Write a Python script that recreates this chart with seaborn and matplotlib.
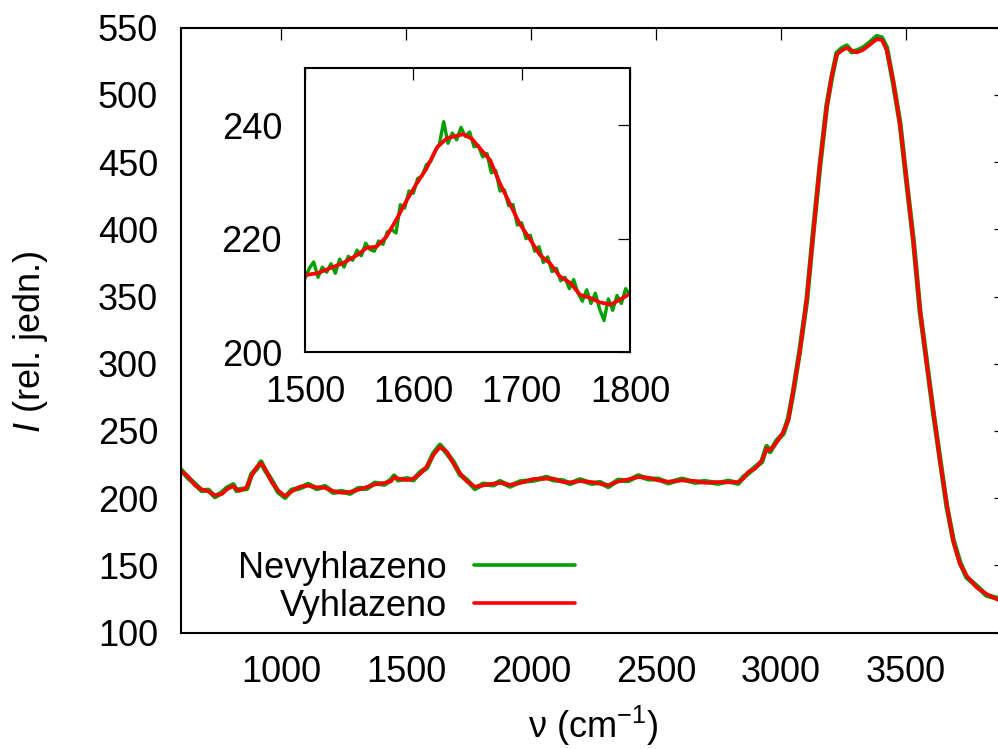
import matplotlib
matplotlib.use("Agg")
import matplotlib.pyplot as plt
import seaborn as sns
import pandas as pd

# ---------------- data ----------------
wn_main = [600, 629, 656, 683, 709, 736, 763, 783, 809, 823, 836, 863, 883, 903, 920,
           936, 963, 989, 1016, 1043, 1076, 1109, 1143, 1176, 1209, 1243, 1276, 1309,
           1343, 1376, 1413, 1440, 1452, 1469, 1503, 1529, 1556, 1583, 1609, 1636, 1663,
           1689, 1716, 1743, 1776, 1809, 1849, 1876, 1916, 1956, 2009, 2063, 2089, 2129,
           2156, 2196, 2243, 2276, 2309, 2349, 2389, 2429, 2469, 2509, 2549, 2603, 2656,
           2696, 2749, 2789, 2829, 2849, 2869, 2896, 2923, 2935, 2943, 2956, 2983, 3009,
           3029, 3049, 3076, 3103, 3129, 3156, 3183, 3203, 3223, 3243, 3263, 3283, 3303,
           3329, 3356, 3383, 3403, 3423, 3449, 3476, 3500, 3530, 3556, 3583, 3609, 3636,
           3663, 3689, 3716, 3743, 3783, 3823, 3866, 3900]

smooth_main = [220.0, 216.0, 209.5, 206.5, 205.0, 202.0, 203.0, 206.5, 209.0, 206.5, 205.5,
               208.0, 217.0, 223.0, 226.0, 222.0, 212.0, 205.5, 201.5, 205.0, 208.5, 209.3,
               208.0, 207.7, 205.2, 204.0, 204.5, 206.2, 208.2, 210.2, 211.2, 212.5, 215.5,
               214.5, 213.5, 214.5, 218.0, 223.5, 232.0, 238.0, 234.5, 226.0, 218.5, 212.5,
               208.5, 209.5, 210.7, 211.4, 209.8, 211.2, 214.2, 214.5, 214.5, 211.9, 211.7,
               212.7, 211.9, 210.7, 209.5, 212.4, 213.9, 215.7, 215.2, 213.2, 212.2, 213.2,
               212.7, 211.4, 211.9, 211.7, 211.9, 214.5, 219.4, 221.9, 228.0, 233.0, 237.0,
               235.5, 241.7, 249.0, 258.0, 280.0, 310.0, 348.0, 397.0, 449.0, 491.0, 514.0,
               530.0, 533.0, 535.0, 533.0, 531.6, 533.6, 537.5, 541.5, 541.0, 533.5, 510.0,
               478.0, 440.0, 390.0, 340.0, 300.0, 265.0, 228.0, 195.0, 168.0, 151.0, 142.0,
               133.5, 128.5, 124.5, 122.0]

raw_main = [221.0, 215.0, 210.5, 205.5, 206.0, 201.0, 204.0, 207.5, 210.0, 205.5, 206.5,
            207.0, 218.0, 222.0, 227.0, 221.0, 213.0, 204.5, 200.5, 206.0, 207.5, 210.3,
            207.0, 208.7, 204.2, 205.0, 203.5, 207.2, 207.2, 211.2, 210.2, 213.5, 216.5,
            213.5, 214.5, 213.5, 219.0, 222.5, 233.0, 239.5, 233.5, 227.0, 217.5, 213.5,
            207.0, 210.5, 209.7, 212.4, 208.8, 212.2, 213.2, 215.5, 213.5, 212.9, 210.7,
            213.7, 210.9, 211.7, 208.5, 213.4, 212.9, 216.7, 214.2, 214.2, 211.2, 214.2,
            211.7, 212.4, 210.9, 212.7, 210.9, 215.5, 218.4, 222.9, 227.0, 234.0, 238.5,
            234.5, 242.7, 248.0, 259.0, 279.0, 311.0, 347.0, 398.0, 448.0, 492.0, 513.0,
            531.0, 534.5, 536.5, 532.0, 532.8, 535.0, 539.0, 543.5, 542.5, 535.0, 509.0,
            479.0, 439.0, 391.0, 339.0, 301.0, 264.0, 229.0, 194.0, 169.0, 152.0, 141.0,
            134.5, 127.5, 125.5, 121.0]

wn_inset_smooth = [1500, 1511, 1523, 1535, 1548, 1557, 1566, 1575, 1585, 1594, 1603, 1612,
                   1622, 1631, 1640, 1646, 1654, 1662, 1671, 1680, 1689, 1698, 1708, 1717,
                   1726, 1735, 1745, 1754, 1763, 1772, 1782, 1791, 1800]
inset_smooth = [213.6, 213.9, 214.8, 215.7, 217.1, 218.4, 218.6, 220.3, 223.6, 226.8, 229.7,
                232.3, 236.1, 237.7, 238.1, 238.4, 237.6, 235.8, 233.8, 229.7, 226.2, 222.7,
                219.8, 217.1, 215.7, 213.4, 212.2, 210.1, 209.6, 208.8, 208.4, 209.3, 210.3]

wn_inset_raw = list(range(1500, 1801, 4))
inset_raw = [213.0, 214.8, 215.9, 213.2, 215.0, 214.1, 215.6, 213.9, 216.4, 215.0, 216.9,
             216.2, 218.0, 217.0, 219.2, 218.1, 217.8, 219.6, 219.0, 221.2, 221.6, 221.0,
             226.0, 225.4, 228.4, 228.0, 230.6, 231.0, 233.0, 233.6, 235.4, 236.6, 240.6,
             236.8, 238.6, 237.4, 239.6, 238.0, 238.8, 236.2, 236.4, 234.4, 235.0, 231.6,
             232.0, 228.4, 228.6, 225.8, 226.0, 222.4, 222.8, 220.0, 220.6, 217.8, 218.6,
             215.8, 216.8, 214.2, 214.8, 212.6, 213.2, 211.2, 212.8, 210.4, 209.0, 211.0,
             208.6, 210.4, 207.6, 205.6, 209.4, 207.4, 210.0, 208.6, 211.2, 210.0]

labels = ["Nevyhlazeno", "Vyhlazeno"]
main_xticks = [1000, 1500, 2000, 2500, 3000, 3500]
main_yticks = [100, 150, 200, 250, 300, 350, 400, 450, 500, 550]
inset_xticks = [1500, 1600, 1700, 1800]
inset_yticks = [200, 220, 240]

GREEN = "#00a000"
RED = "#ff0000"

# ---------------- style ----------------
sns.set_theme(style="white")
plt.rcParams["font.family"] = ["Liberation Sans", "DejaVu Sans"]
plt.rcParams["mathtext.fontset"] = "custom"
plt.rcParams["mathtext.rm"] = "Liberation Sans"
plt.rcParams["mathtext.it"] = "Liberation Sans:italic"
plt.rcParams["text.color"] = "black"
plt.rcParams["axes.labelcolor"] = "black"
plt.rcParams["xtick.color"] = "black"
plt.rcParams["ytick.color"] = "black"
FS = 26

fig = plt.figure(figsize=(9.98, 7.49), dpi=100)
W, H = 998.0, 749.0


def fig_rect(l, t, r, b):
    return [l / W, 1 - b / H, (r - l) / W, (b - t) / H]


def style_axes(a, pad):
    a.tick_params(direction="in", length=8.6, width=0.9, top=True, right=True,
                  labelsize=FS, pad=pad, colors="black", labelcolor="black")
    for s in a.spines.values():
        s.set_linewidth(1.5)
        s.set_color("black")
        s.set_visible(True)
    a.grid(False)


ax = fig.add_axes(fig_rect(181, 27.7, 1006, 632.5))
df_raw = pd.DataFrame({"wn": wn_main, "I": raw_main})
df_sm = pd.DataFrame({"wn": wn_main, "I": smooth_main})
sns.lineplot(data=df_raw, x="wn", y="I", ax=ax, color=GREEN, lw=3.6,
             estimator=None, sort=False, label=labels[0])
sns.lineplot(data=df_sm, x="wn", y="I", ax=ax, color=RED, lw=2.7,
             estimator=None, sort=False, label=labels[1])
ax.set_xlim(600, 3900)
ax.set_ylim(100, 550)
ax.set_xticks(main_xticks)
ax.set_yticks(main_yticks)
style_axes(ax, 16.5)
ax.set_xlabel("ν (cm$^{-1}$)", fontsize=FS, color="black")
ax.set_ylabel("$\\mathit{I}$ (rel. jedn.)", fontsize=FS, color="black")
ax.xaxis.set_label_coords(0.5, -0.118)
ax.yaxis.set_label_coords(-0.159, 0.481)

handles = ax.get_lines()[:2]
leg = ax.legend(handles=handles, labels=labels, loc="upper right",
                bbox_to_anchor=(575 / W, 1 - 551 / H), bbox_transform=fig.transFigure,
                frameon=False, markerfirst=False, fontsize=FS, handlelength=2.8,
                handletextpad=0.75, labelspacing=0.08, borderpad=0, borderaxespad=0)
for ln in leg.get_lines():
    ln.set_linewidth(2.6)
for t in leg.get_texts():
    t.set_color("black")

# ---------------- inset ----------------
ax2 = fig.add_axes(fig_rect(305, 68.3, 630, 352.3))
ax2.set_facecolor("white")
df_iraw = pd.DataFrame({"wn": wn_inset_raw, "I": inset_raw})
df_ism = pd.DataFrame({"wn": wn_inset_smooth, "I": inset_smooth})
sns.lineplot(data=df_iraw, x="wn", y="I", ax=ax2, color=GREEN, lw=2.4,
             estimator=None, sort=False, legend=False)
sns.lineplot(data=df_ism, x="wn", y="I", ax=ax2, color=RED, lw=2.7,
             estimator=None, sort=False, legend=False)
ax2.set_xlim(1500, 1800)
ax2.set_ylim(200, 250)
ax2.set_xticks(inset_xticks)
ax2.set_yticks(inset_yticks)
style_axes(ax2, 16.5)
ax2.set_xlabel("")
ax2.set_ylabel("")
if ax2.get_legend() is not None:
    ax2.get_legend().remove()

fig.savefig("out.png", dpi=100)
